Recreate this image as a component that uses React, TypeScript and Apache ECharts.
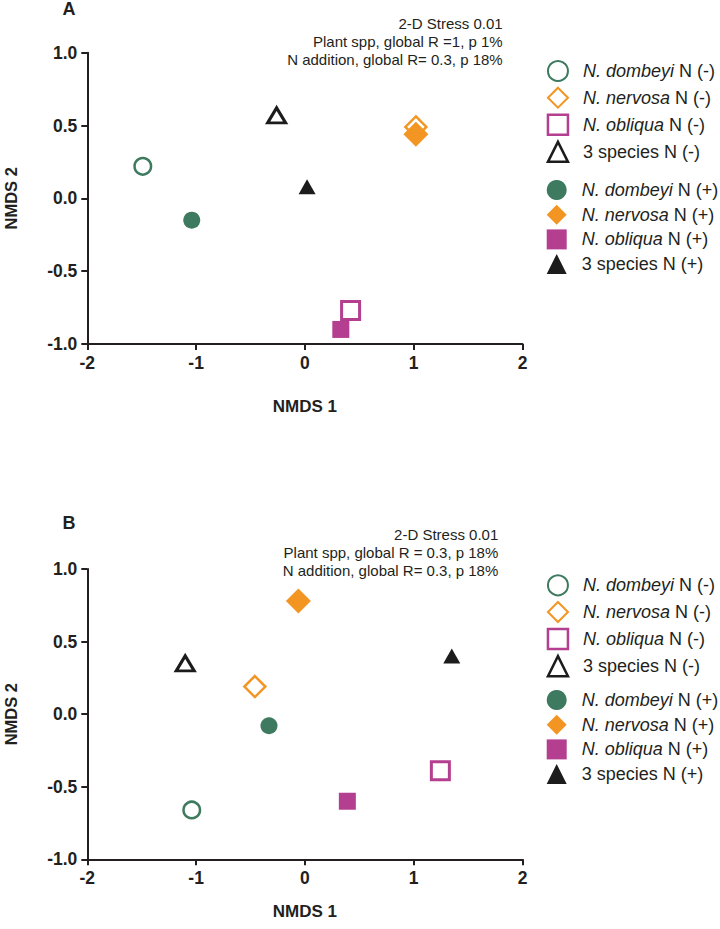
import React, { useEffect, useRef } from 'react';
import * as echarts from 'echarts';

// ---- data ----
const groupNames = ['N. dombeyi', 'N. nervosa', 'N. obliqua', '3 species'];
const minusLabels = ['N. dombeyi N (-)', 'N. nervosa N (-)', 'N. obliqua N (-)', '3 species N (-)'];
const plusLabels = ['N. dombeyi N (+)', 'N. nervosa N (+)', 'N. obliqua N (+)', '3 species N (+)'];

// Panel A (NMDS 1, NMDS 2) per group: dombeyi, nervosa, obliqua, 3 species
const aMinusX = [-1.49, 1.02, 0.42, -0.26];
const aMinusY = [0.22, 0.49, -0.77, 0.57];
const aPlusX = [-1.04, 1.02, 0.33, 0.02];
const aPlusY = [-0.15, 0.44, -0.9, 0.08];

// Panel B
const bMinusX = [-1.04, -0.46, 1.245, -1.1];
const bMinusY = [-0.66, 0.19, -0.39, 0.35];
const bPlusX = [-0.33, -0.06, 0.39, 1.35];
const bPlusY = [-0.08, 0.78, -0.6, 0.4];

const xTicks = [-2, -1, 0, 1, 2];
const yTicks = [-1.0, -0.5, 0.0, 0.5, 1.0];

const annotationA = ['2-D Stress 0.01', 'Plant spp, global R =1, p 1%', 'N addition, global R= 0.3, p 18%'];
const annotationB = ['2-D Stress 0.01', 'Plant spp, global R = 0.3, p 18%', 'N addition, global R= 0.3, p 18%'];

// ---- styles ----
const FONT = '"Liberation Sans", Arial, Helvetica, sans-serif';
const INK = '#231f20';
const colors = ['#3d7a5f', '#f39523', '#b43e8f', '#1c1c1c'];
const symbols = ['circle', 'diamond', 'rect', 'triangle'];
const openSizes: any[] = [16.5, 21, 18, [18, 15]];
const openBorders = [2.5, 2.5, 3, 3];
const filledSizes: any[] = [17, 25, 17, [17, 15]];

function buildSeries(panel: number, mx: number[], my: number[], px: number[], py: number[]) {
  const out: any[] = [];
  for (let g = 0; g < 4; g++) {
    out.push({
      type: 'scatter',
      name: minusLabels[g],
      xAxisIndex: panel,
      yAxisIndex: panel,
      symbol: symbols[g],
      symbolSize: openSizes[g],
      z: 2,
      itemStyle: { color: '#ffffff', borderColor: colors[g], borderWidth: openBorders[g], opacity: 1 },
      data: [[mx[g], my[g]]],
    });
  }
  for (let g = 0; g < 4; g++) {
    out.push({
      type: 'scatter',
      name: plusLabels[g],
      xAxisIndex: panel,
      yAxisIndex: panel,
      symbol: symbols[g],
      symbolSize: filledSizes[g],
      z: 3,
      itemStyle: { color: colors[g], opacity: 1 },
      data: [[px[g], py[g]]],
    });
  }
  return out;
}

function legendBlock(labels: string[], filled: boolean, top: number) {
  return {
    orient: 'vertical',
    left: 546.7,
    top,
    padding: 0,
    itemWidth: 20,
    itemHeight: 20,
    itemGap: 4.7,
    symbolKeepAspect: true,
    selectedMode: false,
    data: labels.map((n, g) => ({
      name: n,
      icon: symbols[g],
      itemStyle: filled
        ? { color: colors[g], borderWidth: 0 }
        : { color: '#ffffff', borderColor: colors[g], borderWidth: openBorders[g] - 0.5 },
    })),
    formatter: (name: string) => {
      const sp = groupNames.find((s) => name.startsWith(s)) || '';
      if (sp.startsWith('N.')) return '{s| }{i|' + sp + '}' + name.slice(sp.length);
      return '{s| }' + name;
    },
    textStyle: {
      fontFamily: FONT,
      fontSize: 18,
      color: INK,
      lineHeight: 20,
      rich: {
        s: { width: 10, fontSize: 18, lineHeight: 20 },
        i: { fontStyle: 'italic', fontFamily: FONT, fontSize: 18, color: INK, lineHeight: 20 },
      },
    },
  };
}

function xAxisCfg(grid: number, nameGap: number) {
  return {
    type: 'value',
    gridIndex: grid,
    min: xTicks[0],
    max: xTicks[xTicks.length - 1],
    interval: 1,
    name: 'NMDS 1',
    nameLocation: 'middle',
    nameGap,
    nameTextStyle: { fontFamily: FONT, fontWeight: 'bold', fontSize: 17, color: INK },
    axisLine: { onZero: false, lineStyle: { color: INK, width: 2 } },
    axisTick: { show: true, length: 6, lineStyle: { color: INK, width: 2 } },
    splitLine: { show: false },
    axisLabel: { fontFamily: FONT, fontWeight: 'bold', fontSize: 17.5, color: INK, margin: 10 },
  };
}

function yAxisCfg(grid: number) {
  return {
    type: 'value',
    gridIndex: grid,
    min: yTicks[0],
    max: yTicks[yTicks.length - 1],
    interval: 0.5,
    name: 'NMDS 2',
    nameLocation: 'middle',
    nameGap: 68,
    nameRotate: 90,
    nameTextStyle: { fontFamily: FONT, fontWeight: 'bold', fontSize: 16.5, color: INK },
    axisLine: { onZero: false, lineStyle: { color: INK, width: 2 } },
    axisTick: { show: true, length: 6, lineStyle: { color: INK, width: 2 } },
    splitLine: { show: false },
    axisLabel: {
      fontFamily: FONT,
      fontWeight: 'bold',
      fontSize: 17.5,
      color: INK,
      margin: 10,
      formatter: (v: number) => v.toFixed(1),
    },
  };
}

function annText(lines: string[], x: number, y: number) {
  return {
    type: 'text',
    x,
    y,
    style: {
      text: lines.join('\n'),
      font: '15px ' + FONT,
      fill: INK,
      align: 'right',
      textAlign: 'right',
      verticalAlign: 'top',
      textVerticalAlign: 'top',
      lineHeight: 18,
    },
  };
}

function panelLetter(t: string, x: number, y: number) {
  return {
    type: 'text',
    x,
    y,
    style: {
      text: t,
      font: 'bold 18px ' + FONT,
      fill: INK,
      align: 'center',
      textAlign: 'center',
      verticalAlign: 'middle',
      textVerticalAlign: 'middle',
    },
  };
}

export default function App() {
  const ref = useRef<HTMLDivElement>(null);
  useEffect(() => {
    if (!ref.current) return;
    const chart = echarts.init(ref.current, undefined, { renderer: 'svg' });
    chart.setOption({
      animation: false,
      backgroundColor: '#ffffff',
      grid: [
        { left: 87.3, top: 52.7, width: 435.2, height: 291.3, containLabel: false, outerBoundsMode: 'none' },
        { left: 87.3, top: 569, width: 435.2, height: 290.3, containLabel: false, outerBoundsMode: 'none' },
      ],
      xAxis: [xAxisCfg(0, 54), xAxisCfg(1, 44)],
      yAxis: [yAxisCfg(0), yAxisCfg(1)],
      legend: [
        legendBlock(minusLabels, false, 60),
        legendBlock(plusLabels, true, 180),
        legendBlock(minusLabels, false, 574.3),
        legendBlock(plusLabels, true, 690),
      ],
      graphic: [
        panelLetter('A', 69, 9),
        panelLetter('B', 69, 523),
        annText(annotationA, 502.7, 14),
        annText(annotationB, 498.3, 525),
      ],
      series: [
        ...buildSeries(0, aMinusX, aMinusY, aPlusX, aPlusY),
        ...buildSeries(1, bMinusX, bMinusY, bPlusX, bPlusY),
      ],
    });
    return () => chart.dispose();
  }, []);
  return (
    <div
      ref={ref}
      style={{ position: 'absolute', left: 0, top: 0, width: 720, height: 929, background: '#fff' }}
    />
  );
}
